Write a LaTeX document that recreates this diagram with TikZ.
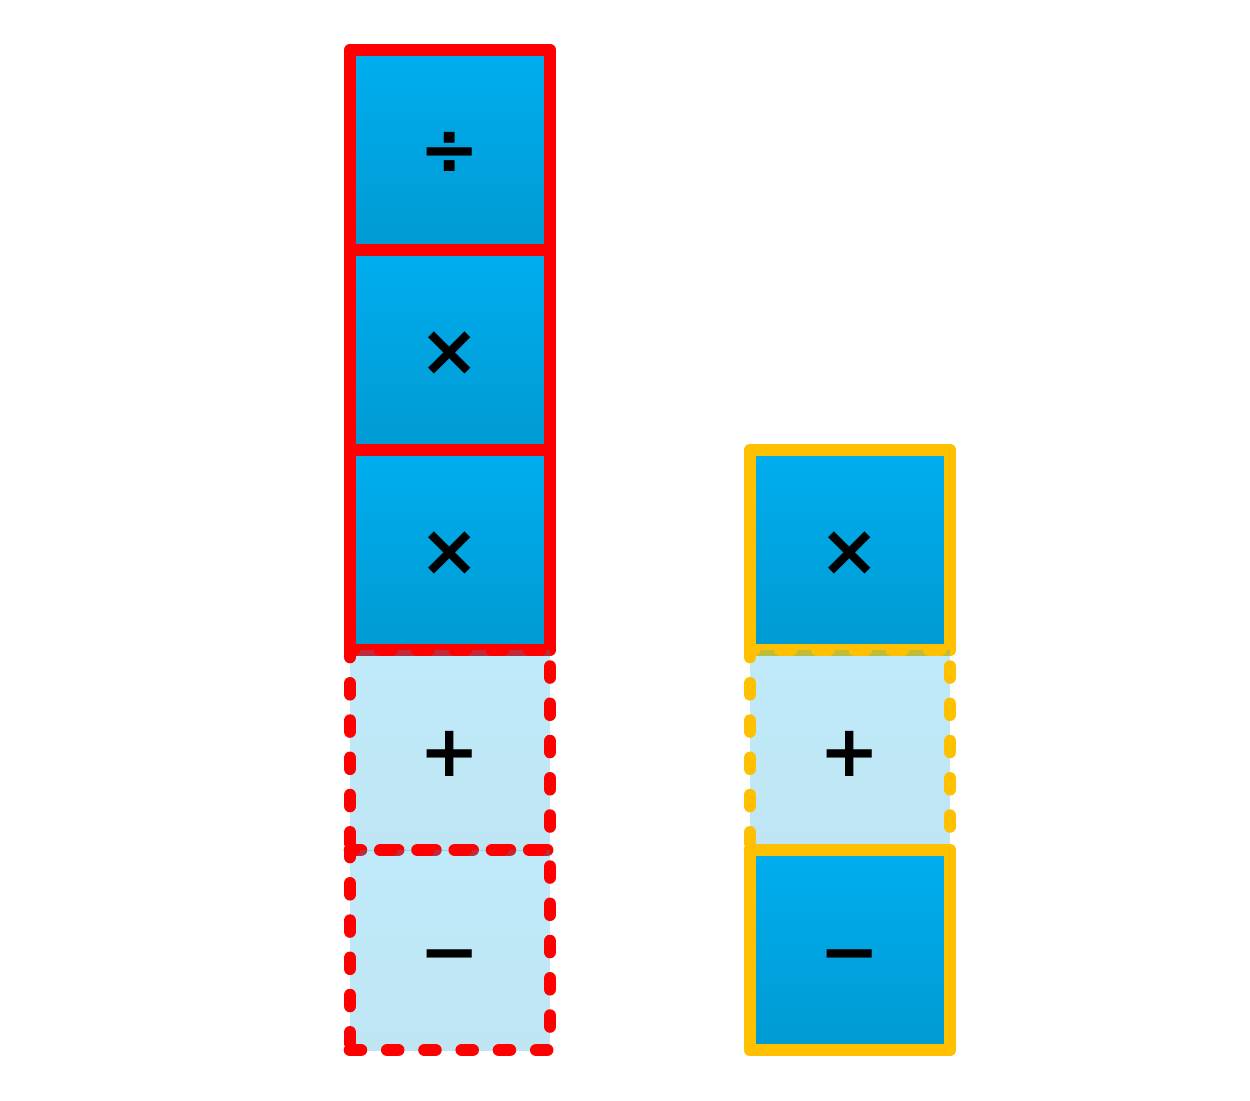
\documentclass[tikz,border=0pt]{standalone}
\usepackage{fontspec}
\newfontfamily\symfont{DejaVu Sans}[BoldFont={DejaVu Sans Bold}]
\begin{document}
\begin{tikzpicture}[x=0.02cm,y=-0.02cm,
  blueop/.style={minimum width=4cm,minimum height=4cm,inner sep=0pt,outer sep=0pt,
    top color=boxtop,bottom color=boxbot,line width=7.2pt,line join=round},
  lightop/.style={minimum width=4cm,minimum height=4cm,inner sep=0pt,outer sep=0pt,
    top color=boxtop,bottom color=boxbot,fill opacity=0.25,draw opacity=1,text opacity=1,
    line width=7.2pt,line join=round,line cap=round,
    dash pattern=on 6.2pt off 15pt},
  redline/.style={draw=redc},
  yelline/.style={draw=yelc},
  sym/.style={font=\symfont\bfseries\fontsize{41}{41}\selectfont,text=black,yshift=-2pt}]
\definecolor{boxtop}{HTML}{00AEEF}
\definecolor{boxbot}{HTML}{009AD2}
\definecolor{redc}{HTML}{FF0000}
\definecolor{yelc}{HTML}{FFC000}
\useasboundingbox[fill=white] (0,0) rectangle (1250,1100);
% left column
\node[blueop,redline] (l1) at (450,150) {};
\node[blueop,redline] (l2) at (450,350) {};
\node[blueop,redline] (l3) at (450,550) {};
\node[lightop,redline] (l4) at (450,750) {};
\node[lightop,redline] (l5) at (450,950) {};
% right column
\node[blueop,yelline] (r1) at (850,550) {};
\node[lightop,yelline] (r2) at (850,750) {};
\node[blueop,yelline] (r3) at (850,950) {};
% symbols
\node[sym] (s1) at (l1.center) {÷};
\node[sym] (s2) at (l2.center) {×};
\node[sym] (s3) at (l3.center) {×};
\node[sym] (s4) at (l4.center) {+};
\node[sym] (s5) at (l5.center) {\vphantom{+}−};
\node[sym] (t1) at (r1.center) {×};
\node[sym] (t2) at (r2.center) {+};
\node[sym] (t3) at (r3.center) {\vphantom{+}−};
\end{tikzpicture}
\end{document}
